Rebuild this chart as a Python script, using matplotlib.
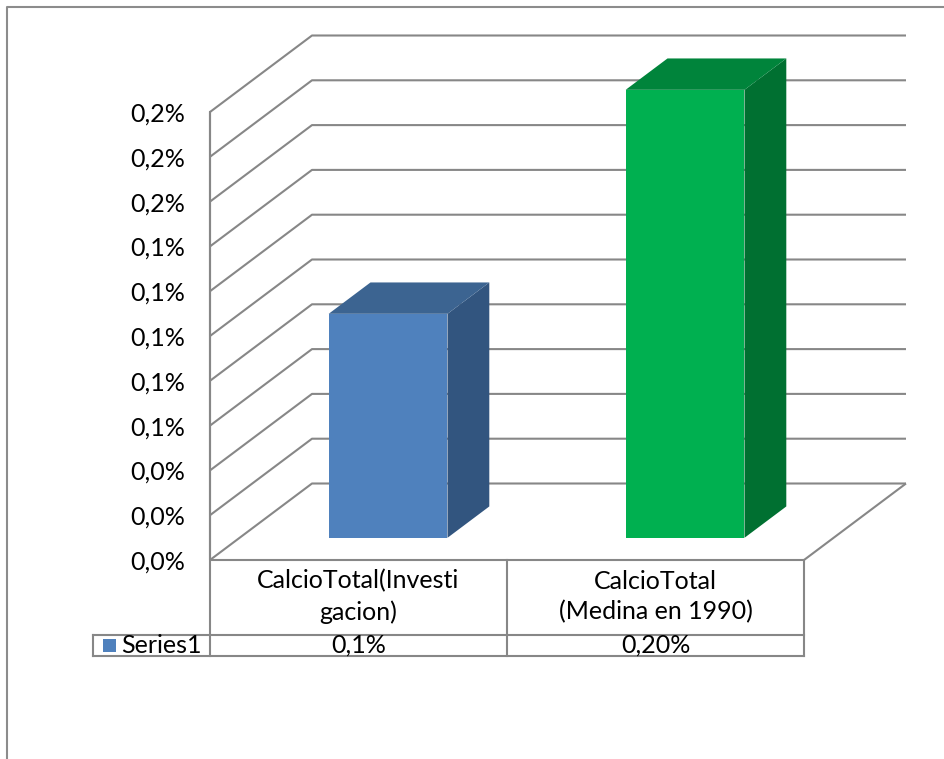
import numpy as np
import matplotlib
matplotlib.use("Agg")
import matplotlib.pyplot as plt
from matplotlib.patches import Polygon, Rectangle
from matplotlib.lines import Line2D
from matplotlib.ticker import FuncFormatter

# ---- data -------------------------------------------------------------
categories = ["CalcioTotal(Investi\ngacion)", "CalcioTotal\n(Medina en 1990)"]
series_name = "Series1"
values = [0.1, 0.20]            # percent
value_decimals = [1, 2]         # decimals shown in the data table
y_ticks = np.linspace(0.0, 0.2, 11)

# ---- style ------------------------------------------------------------
FONT = "Lato"
FS = 18
GRID = "#878787"
LW = 1.5
front_colors = ["#4F81BD", "#00B050"]
top_colors = ["#3C6491", "#00843B"]
side_colors = ["#32557F", "#007031"]

W, H, DPI = 945, 759, 100
fig = plt.figure(figsize=(W / DPI, H / DPI), dpi=DPI)
fig.patch.set_facecolor("white")

# plot area = front edge of the floor (x) and front edge of the left wall (y)
left_px, right_px, top_px, bottom_px = 210, 804, 112, 560
ax = fig.add_axes([left_px / W, 1 - bottom_px / H,
                   (right_px - left_px) / W, (bottom_px - top_px) / H])
ax.set_xlim(-0.5, len(categories) - 0.5)
ax.set_ylim(y_ticks[0], y_ticks[-1])
for s in ax.spines.values():
    s.set_visible(False)
ax.set_xticks([])
ax.set_facecolor("none")

# oblique depth offset of the back wall, in data units
cat_px = (right_px - left_px) / len(categories)
val_px = (bottom_px - top_px) / (y_ticks[-1] - y_ticks[0])
DX = 102 / cat_px
DY = 76.5 / val_px

x0, x1 = -0.5, len(categories) - 0.5

def line(xs, ys, **kw):
    ax.add_line(Line2D(xs, ys, color=GRID, lw=LW, clip_on=False,
                       solid_capstyle="butt", **kw))

# walls and gridlines
for v in y_ticks:
    line([x0, x0 + DX, x1 + DX], [v, v + DY, v + DY], zorder=1)
line([x0, x0], [y_ticks[-1], y_ticks[0]], zorder=1)
# floor front and right edges
line([x0, x1, x1 + DX], [0, 0, DY], zorder=1)

# y tick labels
ax.set_yticks(y_ticks)
ax.yaxis.set_major_formatter(
    FuncFormatter(lambda v, p: f"{v:.1f}".replace(".", ",") + "%"))
ax.tick_params(axis="y", length=0, pad=18, labelsize=FS)
for t in ax.get_yticklabels():
    t.set_fontfamily(FONT)

# 3D columns
bw = 0.40
f0, f1 = 0.29, 0.70
for i, v in enumerate(values):
    a, b = i - bw / 2, i + bw / 2
    side = [(b + f0 * DX, f0 * DY), (b + f1 * DX, f1 * DY),
            (b + f1 * DX, v + f1 * DY), (b + f0 * DX, v + f0 * DY)]
    top = [(a + f0 * DX, v + f0 * DY), (a + f1 * DX, v + f1 * DY),
           (b + f1 * DX, v + f1 * DY), (b + f0 * DX, v + f0 * DY)]
    ax.add_patch(Polygon(side, closed=True, facecolor=side_colors[i],
                         edgecolor="none", zorder=3, clip_on=False))
    ax.add_patch(Polygon(top, closed=True, facecolor=top_colors[i],
                         edgecolor="none", zorder=3, clip_on=False))
    ax.add_patch(Rectangle((a + f0 * DX, f0 * DY), bw, v,
                           facecolor=front_colors[i], edgecolor="none",
                           zorder=4, clip_on=False))

# data table below the plot area (heights in pixels -> axes fraction)
ax_h = bottom_px - top_px
row1 = -75 / ax_h
row2 = -96 / ax_h
tr = ax.get_xaxis_transform()
legend_x = -0.5 - 117 / cat_px

def tline(xs, ys):
    ax.add_line(Line2D(xs, ys, color=GRID, lw=LW, transform=tr,
                       clip_on=False, solid_capstyle="projecting"))

for k in range(len(categories) + 1):
    tline([x0 + k, x0 + k], [0 if k else 1, row2])
tline([legend_x, x1], [row1, row1])
tline([legend_x, x1], [row2, row2])
tline([legend_x, legend_x], [row1, row2])

for i, (c, v, d) in enumerate(zip(categories, values, value_decimals)):
    ax.text(i, row1 / 2 + 1 / ax_h, c, transform=tr, ha="center", va="center",
            fontsize=FS, family=FONT, linespacing=1.38)
    ax.text(i, (row1 + row2) / 2, f"{v:.{d}f}".replace(".", ",") + "%",
            transform=tr, ha="center", va="center", fontsize=FS, family=FONT)

ax.add_patch(Rectangle((legend_x + 10 / cat_px, row2 + 4 / ax_h),
                       13 / cat_px, 13 / ax_h, transform=tr,
                       facecolor=front_colors[0], edgecolor="none",
                       clip_on=False))
ax.text(legend_x + 28 / cat_px, (row1 + row2) / 2, series_name, transform=tr,
        ha="left", va="center", fontsize=FS, family=FONT)

# chart frame (top and left edges)
fig.add_artist(Line2D([7.5 / W, 7.5 / W, 1], [0, 1 - 6.5 / H, 1 - 6.5 / H],
                      transform=fig.transFigure, color="#8C8C8C", lw=LW))

fig.savefig("out.png", dpi=DPI)
